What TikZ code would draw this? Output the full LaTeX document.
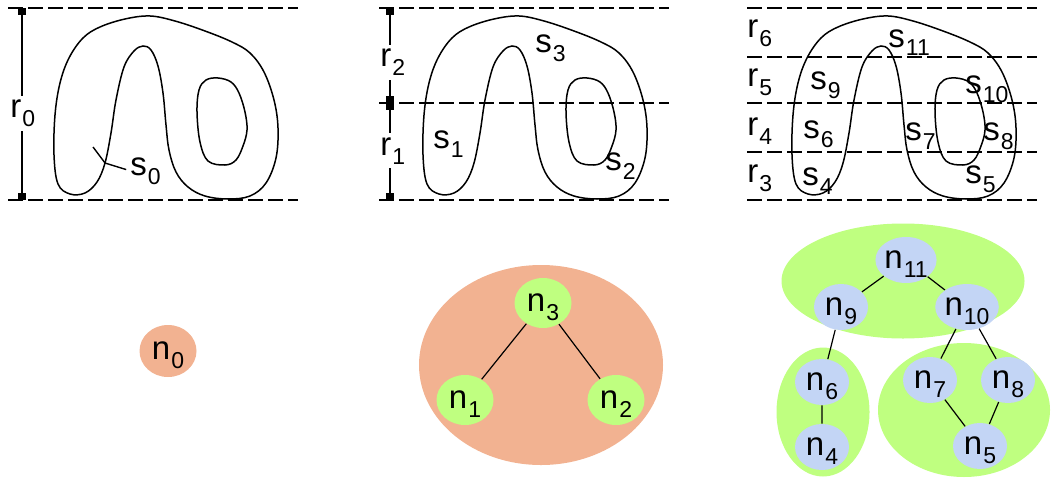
\documentclass[tikz,border=0pt]{standalone}
\usepackage{fontspec}
\setmainfont{Liberation Sans}
\usetikzlibrary{arrows.meta,shapes.geometric}
\definecolor{salmon}{HTML}{F2B291}
\definecolor{lime}{HTML}{BFFF80}
\definecolor{paleblue}{HTML}{C3D5F5}
\newcommand{\sub}[2]{#1\kern0.5pt\raisebox{-4.5pt}{\fontsize{11.5}{12}\selectfont #2}}

\begin{document}
\begin{tikzpicture}[x=0.5pt, y=-0.5pt, every node/.style={font=\fontsize{16.5}{18}\selectfont}, >={Square[length=3.5pt,width=4pt]},
	cut/.style={line width=0.8pt, dash pattern=on 7.5pt off 2.5pt},
	contour/.style={line width=0.75pt},
	dim/.style={<->, line width=0.8pt},
	lbl/.style={anchor=base west, inner sep=0pt},
	gap/.style={lbl, fill=white, inner ysep=2pt},
	blob/.style={ellipse, inner sep=0pt},
	tnode/.style={ellipse, inner sep=0pt, text depth=0pt},
	grn/.style={tnode, fill=lime, minimum width=28.5pt, minimum height=25pt},
	blu/.style={tnode, fill=paleblue, minimum width=27pt, minimum height=23pt},
	link/.style={line width=0.6pt}]
	\useasboundingbox (0,0) rectangle (1052,481);
	% cut lines
	\foreach \xa in {8,379,747}
		\draw[cut] (\xa,8) -- ++(290,0) (\xa,200) -- ++(290,0);
	\draw[cut] (379,103) -- ++(290,0);
	\foreach \ya in {57,103,152}
		\draw[cut] (747,\ya) -- ++(290,0);
	% the same figure in every panel
	\foreach \dx in {0,369,738} {
		\begin{scope}[shift={(\dx,0)}]
			\draw[contour] plot[smooth cycle, tension=0.6] coordinates {(150,16) (175,21) (205,31) (232,42) (250,53) (264,72) (274,100) (278,128) (276,158) (266,183) (250,196) (228,199) (205,196) (188,187) (176,172) (169,150) (166,125) (163,93) (158,66) (151,50) (143,46) (134,51) (124,67) (116,100) (111,133) (105,163) (97,182) (85,193) (70,194) (58,184) (54,155) (55,115) (60,83) (69,58) (83,38) (100,27) (125,19)};
			\draw[contour] plot[smooth cycle, tension=0.6] coordinates {(218,78) (231,82) (239,93) (245,112) (247,130) (243,146) (236,160) (225,165) (208,161) (200,142) (197,112) (199,90) (206,80)};
		\end{scope}
	}
	\draw[dim] (22,8) -- (22,200);
	\draw[dim] (390,8) -- (390,103);
	\draw[dim] (390,103) -- (390,200);
	% labels
	\node[gap] (r0) at (10,118) {\sub{r}{0}};
	\node[gap] (r2) at (380,67) {\sub{r}{2}};
	\node[gap] (r1) at (380,155) {\sub{r}{1}};
	\node[lbl] (s0) at (130,175) {\sub{s}{0}};
	\coordinate (tick) at (93,147);
	\coordinate (x0) at (105,163);
	\draw[line width=0.7pt, shorten >=2pt] (tick) -- (x0) -- (s0.west);
	\node[lbl] (s1) at (433,148) {\sub{s}{1}};
	\node[lbl] (s3) at (535,53) {\sub{s}{3}};
	\node[lbl] (s2) at (605,170) {\sub{s}{2}};
	\node[lbl] (r6) at (747,38) {\sub{r}{6}};
	\node[lbl] (r5) at (747,87) {\sub{r}{5}};
	\node[lbl] (r4) at (747,135) {\sub{r}{4}};
	\node[lbl] (r3) at (747,182) {\sub{r}{3}};
	\node[lbl] (s11) at (888,47) {\sub{s}{11}};
	\node[lbl] (s9) at (810,90) {\sub{s}{9}};
	\node[lbl] (s10) at (965,93) {\sub{s}{10}};
	\node[lbl] (s6) at (803,138) {\sub{s}{6}};
	\node[lbl] (s7) at (905,140) {\sub{s}{7}};
	\node[lbl] (s8) at (983,140) {\sub{s}{8}};
	\node[lbl] (s4) at (802,185) {\sub{s}{4}};
	\node[lbl] (s5) at (965,183) {\sub{s}{5}};
	% graphs
	\node[tnode, fill=salmon, minimum width=28.5pt, minimum height=26pt] (n0) at (168,351) {\sub{n}{0}};
	\node[blob, fill=salmon, minimum width=122pt, minimum height=100pt] (g2) at (541,365) {};
	\node[grn] (n3) at (543,303) {\sub{n}{3}};
	\node[grn] (n1) at (465,400) {\sub{n}{1}};
	\node[grn] (n2) at (616,400) {\sub{n}{2}};
	\draw[link] (n3) -- (n1) (n3) -- (n2);
	\node[blob, fill=lime, minimum width=121.5pt, minimum height=57.5pt] (g6) at (903,281) {};
	\node[blob, fill=lime, minimum width=46.5pt, minimum height=64.5pt] (g4) at (823,412) {};
	\node[blob, fill=lime, minimum width=86pt, minimum height=67pt] (g5) at (964,410) {};
	\node[blu] (n11) at (906,260) {\sub{n}{11}};
	\node[blu] (n9) at (841,307) {\sub{n}{9}};
	\node[blu] (n10) at (967,307) {\sub{n}{10}};
	\node[blu] (n6) at (822,382) {\sub{n}{6}};
	\node[blu] (n4) at (822,447) {\sub{n}{4}};
	\node[blu] (n7) at (930,380) {\sub{n}{7}};
	\node[blu] (n8) at (1008,380) {\sub{n}{8}};
	\node[blu] (n5) at (980,446) {\sub{n}{5}};
	\draw[link] (n11) -- (n9) (n11) -- (n10) (n9) -- (n6) (n6) -- (n4)
		(n10) -- (n7) (n10) -- (n8) (n7) -- (n5) (n8) -- (n5);
\end{tikzpicture}
\end{document}
